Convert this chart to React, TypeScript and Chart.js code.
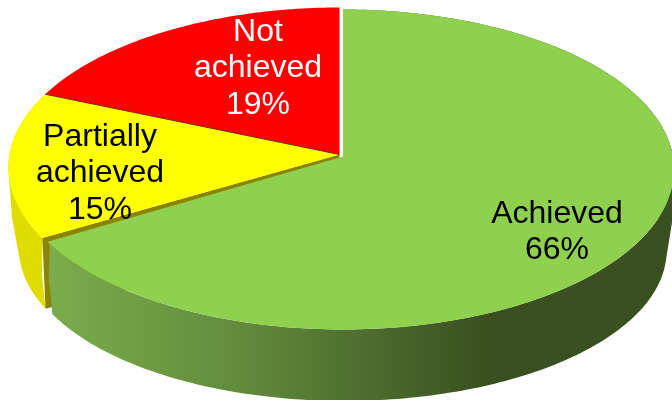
import React, { useEffect, useRef } from "react";
import { Chart, registerables } from "chart.js";

Chart.register(...registerables);

const categories = ["Achieved", "Partially achieved", "Not achieved"];
const shares = [66.4, 15.0, 18.6];
const topColors = ["#8FD14F", "#FFFF00", "#FF0000"];
const wallColors = ["#3A5020", "#E0DC00", "#B00000"];
const labelColors = ["#000000", "#000000", "#FFFFFF"];

// perspective of the tilted disc: upper face, a ring half way down, and the smaller lower face
const upper = { cx: 339.5, cy: 154.5, rx: 330, ry: 158.9, k: 0.08125, twist: 0 };
const middle = { cx: 340.5, cy: 196, rx: 328, ry: 154, k: 0.08, twist: 0.023 };
const lower = { cx: 341, cy: 237, rx: 321, ry: 149, k: 0.08, twist: 0.047 };
// the green slice sits slightly out of the pie
const sliceShift = [
  { x: 3.5, y: 2 },
  { x: 0, y: 0 },
  { x: 0, y: 0 },
];
const labelCentres = [
  { x: 557, y: 232 },
  { x: 100, y: 173.5 },
  { x: 258, y: 68.5 },
];
const lineHeight = 36.5;
// small angular gap that lets the olive cut face show beside the green slice
const cutGap = 0.012;

type Pt = { x: number; y: number };
type Face = typeof upper;

function project(face: Face, angle: number, shift: Pt): Pt {
  const u = Math.cos(angle + face.twist);
  const v = Math.sin(angle + face.twist);
  const w = 1 / (1 - face.k * v);
  return {
    x: face.cx + shift.x + face.rx * u * w,
    y: face.cy + shift.y + face.ry * v * w,
  };
}

function rim(face: Face, start: number, end: number, shift: Pt): Pt[] {
  const steps = Math.max(8, Math.ceil(((end - start) * 180) / Math.PI));
  const pts: Pt[] = [];
  for (let i = 0; i <= steps; i++) {
    pts.push(project(face, start + ((end - start) * i) / steps, shift));
  }
  return pts;
}

function fillPoly(ctx: CanvasRenderingContext2D, pts: Pt[], fill: string | CanvasGradient) {
  ctx.beginPath();
  pts.forEach((p, i) => (i ? ctx.lineTo(p.x, p.y) : ctx.moveTo(p.x, p.y)));
  ctx.closePath();
  ctx.fillStyle = fill;
  ctx.fill();
}

function signedArea(q: Pt[]): number {
  let a = 0;
  q.forEach((p, i) => {
    const n = q[(i + 1) % q.length];
    a += p.x * n.y - n.x * p.y;
  });
  return a;
}

const pie3d = {
  id: "pie3d",
  beforeDatasetsDraw(chart: any) {
    const ctx: CanvasRenderingContext2D = chart.ctx;
    const arcs = chart.getDatasetMeta(0).data;
    const ang = arcs.map((a: any) => ({ s: a.startAngle, e: a.endAngle }));
    ang[1].s += cutGap;
    ctx.save();

    // a wall is the union of the strips joining successive rims, all wound the same way
    const wall = (i: number, fill: string | CanvasGradient, trim = 0) => {
      const rings = [upper, middle, lower].map((f) =>
        rim(f, ang[i].s, ang[i].e - trim, sliceShift[i])
      );
      ctx.beginPath();
      for (let r = 0; r + 1 < rings.length; r++) {
        const top = rings[r];
        const bottom = rings[r + 1];
        for (let j = 0; j + 1 < top.length; j++) {
          const quad = [top[j], top[j + 1], bottom[j + 1], bottom[j]];
          if (signedArea(quad) < 0) quad.reverse();
          quad.forEach((p, k) => (k ? ctx.lineTo(p.x, p.y) : ctx.moveTo(p.x, p.y)));
          ctx.closePath();
        }
      }
      ctx.fillStyle = fill;
      ctx.fill();
    };

    // walls, back to front
    wall(1, wallColors[1]);
    const apex = { x: upper.cx, y: upper.cy };
    const edgeTop = project(upper, ang[1].s, sliceShift[1]);
    const edgeBottom = project(lower, ang[1].s, sliceShift[1]);
    fillPoly(
      ctx,
      [apex, edgeTop, edgeBottom, { x: lower.cx, y: lower.cy }],
      "#8A8400"
    );
    const grad = ctx.createLinearGradient(50, 0, 672, 0);
    grad.addColorStop(0, "#7BAC4B");
    grad.addColorStop(0.3, "#628C3C");
    grad.addColorStop(0.7, "#3A5020");
    grad.addColorStop(1, "#3A5020");
    wall(0, grad, cutGap);

    // top faces
    [2, 1, 0].forEach((i) => {
      const shift = sliceShift[i];
      fillPoly(
        ctx,
        [{ x: upper.cx + shift.x, y: upper.cy + shift.y }, ...rim(upper, ang[i].s, ang[i].e, shift)],
        topColors[i]
      );
    });

    // thin dark seam between the red and yellow faces
    const seam = project(upper, ang[2].s, sliceShift[2]);
    ctx.beginPath();
    ctx.moveTo(apex.x, apex.y);
    ctx.lineTo(seam.x, seam.y);
    ctx.strokeStyle = "#6B2A00";
    ctx.lineWidth = 1;
    ctx.stroke();

    // labels
    ctx.font = '32px "Liberation Sans", Arial, sans-serif';
    ctx.textAlign = "center";
    ctx.textBaseline = "middle";
    chart.data.labels.forEach((label: string, i: number) => {
      const lines = [...label.split(" "), `${Math.round(shares[i])}%`];
      const c = labelCentres[i];
      ctx.fillStyle = labelColors[i];
      lines.forEach((line, j) => {
        ctx.fillText(line, c.x, c.y + (j - (lines.length - 1) / 2) * lineHeight);
      });
    });

    ctx.restore();
    return false;
  },
};

export default function App() {
  const ref = useRef<HTMLCanvasElement>(null);
  useEffect(() => {
    const chart = new Chart(ref.current!, {
      type: "pie",
      data: {
        labels: categories,
        datasets: [{ data: shares, backgroundColor: topColors, borderWidth: 0 }],
      },
      options: {
        animation: false,
        responsive: false,
        plugins: { legend: { display: false }, tooltip: { enabled: false } },
      },
      plugins: [pie3d],
    } as any);
    return () => chart.destroy();
  }, []);
  return (
    <canvas
      ref={ref}
      width={672}
      height={400}
      style={{ position: "fixed", left: 0, top: 0, width: 672, height: 400, background: "#fff" }}
    />
  );
}
